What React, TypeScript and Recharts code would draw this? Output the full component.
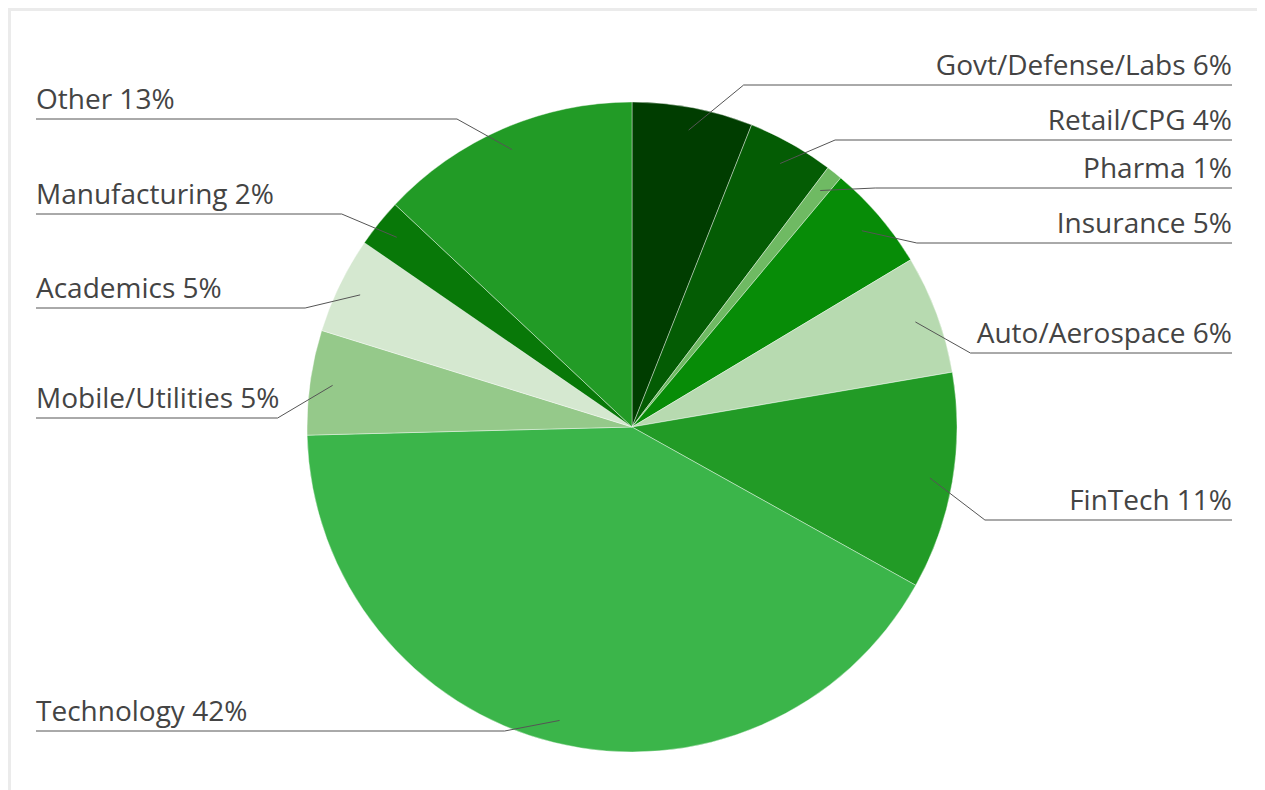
import { PieChart, Pie, Cell } from 'recharts'

const SECTORS = [
  'Govt/Defense/Labs', 'Retail/CPG', 'Pharma', 'Insurance', 'Auto/Aerospace', 'FinTech',
  'Technology', 'Mobile/Utilities', 'Academics', 'Manufacturing', 'Other',
]
const SHARES = [6.0, 4.3, 0.8, 5.3, 5.9, 10.8, 41.5, 5.2, 4.8, 2.4, 13.0]
const COLORS = [
  '#003d00', '#045c04', '#6fba63', '#078c07', '#b7dab0', '#229b26',
  '#3bb54a', '#95c98a', '#d5e8d0', '#087808', '#229b26',
]
// label row (underline) y in chart space, one per sector
const LABEL_ROW_Y = [74, 129, 177, 232, 342, 509, 720, 407, 297, 203, 108]

const data = SECTORS.map((name, i) => ({ name, value: SHARES[i] }))

const W = 1254
const H = 779
const RAD = Math.PI / 180
const LEFT_X = 25
const RIGHT_X = 1221

const renderLabel = (p: any) => {
  const { cx, cy, midAngle, outerRadius, index } = p
  const r = outerRadius * 0.93
  const ax = cx + r * Math.cos(-midAngle * RAD)
  const ay = cy + r * Math.sin(-midAngle * RAD)
  const right = Math.cos(-midAngle * RAD) >= 0
  const rowY = LABEL_ROW_Y[index]
  const ex = right ? ax + 55 : ax - 55
  const endX = right ? RIGHT_X : LEFT_X
  return (
    <g key={`lbl-${index}`}>
      <polyline
        points={`${ax},${ay} ${ex},${rowY} ${endX},${rowY}`}
        fill="none"
        stroke="#555"
        strokeWidth={1}
      />
      <text
        x={endX}
        y={rowY - 10}
        textAnchor={right ? 'end' : 'start'}
        fill="#444444"
        fontSize={28}
        fontFamily="'Open Sans', sans-serif"
      >
        {`${SECTORS[index]} ${Math.round(SHARES[index])}%`}
      </text>
    </g>
  )
}

export default function App() {
  return (
    <div style={{
      width: W, height: H,
      borderTop: '3px solid #ebebeb', borderLeft: '3px solid #ebebeb',
      background: '#fff', overflow: 'hidden',
    }}>
      <PieChart width={W} height={H} margin={{ top: 0, right: 0, bottom: 0, left: 0 }}>
        <Pie
          data={data}
          dataKey="value"
          nameKey="name"
          cx={621}
          cy={416}
          outerRadius={325}
          startAngle={90}
          endAngle={-270}
          stroke="#ffffff"
          strokeWidth={0.4}
          label={renderLabel}
          labelLine={false}
          isAnimationActive={false}
        >
          {data.map((d, i) => (
            <Cell key={d.name} fill={COLORS[i]} />
          ))}
        </Pie>
      </PieChart>
    </div>
  )
}
